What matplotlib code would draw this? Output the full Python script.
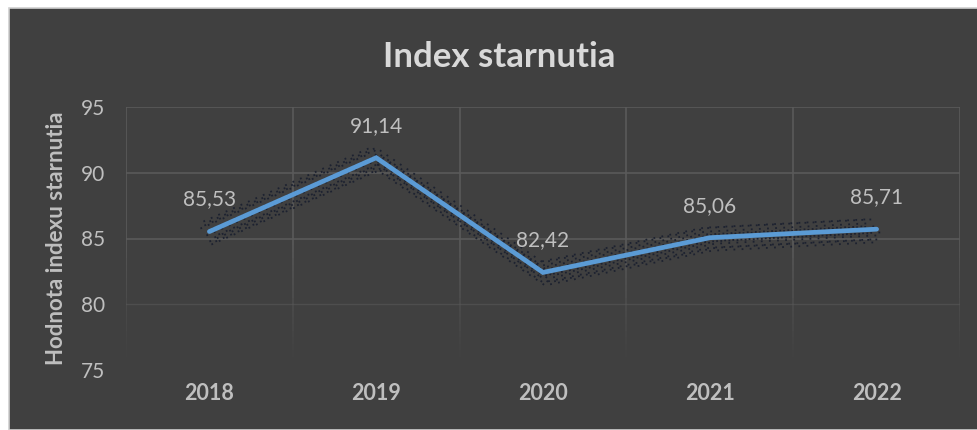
import numpy as np
import matplotlib.pyplot as plt
import matplotlib.transforms as mtransforms
from matplotlib.collections import LineCollection
from matplotlib.patches import Rectangle

# data
years = ["2018", "2019", "2020", "2021", "2022"]
index_values = [85.53, 91.14, 82.42, 85.06, 85.71]
y_ticks = [75, 80, 85, 90, 95]

BG = "#404040"
GRID = "#5a5a5a"
TXT = "#d9d9d9"
LBL = "#bfbfbf"
LINE = "#5b9bd5"

plt.rcParams["font.family"] = ["Lato", "DejaVu Sans"]

fig = plt.figure(figsize=(9.78, 4.30), dpi=100)
fig.patch.set_facecolor("white")
W, H = 978, 430

# chart area frame (dark panel with light border)
fig.patches.append(Rectangle((8.5 / W, 0), 1 - 8.5 / W, (H - 7.5) / H,
                             transform=fig.transFigure, facecolor=BG,
                             edgecolor="#d0d0d0", linewidth=1.2, zorder=-10))

ax = fig.add_axes([126 / W, 1 - 370 / H, (960 - 126) / W, (370 - 107) / H])
ax.set_zorder(1)
ax.set_facecolor(BG)

x = np.arange(len(years))
ymin, ymax = y_ticks[0], y_ticks[-1]

# gridlines, fading out towards the bottom like the original
for yt in y_ticks[2:]:
    ax.axhline(yt, color=GRID, linewidth=1.2, zorder=0)
ax.axhline(y_ticks[1], color=GRID, linewidth=1.0, alpha=0.55, zorder=0)

bounds = np.arange(len(years) + 1) - 0.5
steps = np.linspace(ymax, ymin, 41)
segs, alphas = [], []
for b in bounds:
    for y0, y1 in zip(steps[:-1], steps[1:]):
        segs.append([(b, y0), (b, y1)])
        frac = (y0 - ymin) / (ymax - ymin)
        alphas.append(min(1.0, max(0.0, (frac - 0.05) / 0.45)))
colors = [(0x5a / 255, 0x5a / 255, 0x5a / 255, a) for a in alphas]
ax.add_collection(LineCollection(segs, colors=colors, linewidths=1.2, zorder=0))

# dotted shadow around the line
offsets = [(-5, 6), (5, -6), (-9, 3), (9, -3), (0, 10), (0, -10),
           (-3, -4), (3, 3), (6, -10), (-6, 10), (2, -13)]
for dx, dy in offsets:
    tr = mtransforms.offset_copy(ax.transData, fig=fig, x=dx, y=dy, units="dots")
    ax.plot(x, index_values, color="#1d2230", linewidth=1.3,
            linestyle=(0, (1, 3.5)), transform=tr, zorder=2)

ax.plot(x, index_values, color=LINE, linewidth=3.4, solid_capstyle="round",
        solid_joinstyle="miter", zorder=3)

for xi, v in zip(x, index_values):
    ax.annotate(f"{v:.2f}".replace(".", ","), (xi, v), xytext=(0, 23),
                textcoords="offset points", ha="center", va="center",
                fontsize=15, color=LBL, zorder=4)

ax.set_xlim(-0.5, len(years) - 0.5)
ax.set_ylim(ymin, ymax)
ax.set_yticks(y_ticks)
ax.set_xticks(x)
ax.set_xticklabels(years, fontweight="bold")

ax.tick_params(axis="both", which="both", length=0)
ax.tick_params(axis="y", labelsize=15, labelcolor=LBL, pad=15)
ax.tick_params(axis="x", labelsize=15.5, labelcolor=LBL, pad=9)
for s in ax.spines.values():
    s.set_visible(False)

ax.set_ylabel("Hodnota indexu starnutia", fontsize=16, fontweight="bold",
              color=LBL, labelpad=10)
fig.text(499 / W, 1 - 57 / H, "Index starnutia", ha="center", va="center",
         fontsize=25, fontweight="bold", color=TXT)

fig.savefig("out.png", dpi=100, facecolor=fig.get_facecolor())
